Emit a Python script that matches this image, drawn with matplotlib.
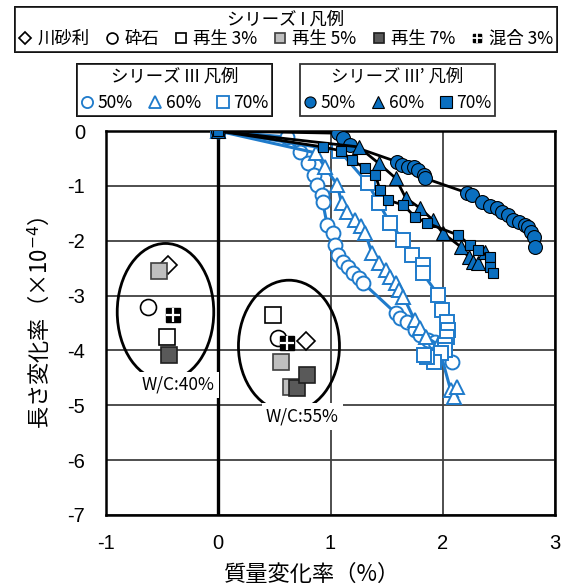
import matplotlib
matplotlib.use("Agg")
import matplotlib.pyplot as plt
from matplotlib.lines import Line2D
from matplotlib.patches import Ellipse
from matplotlib.legend_handler import HandlerTuple

plt.rcParams['font.family'] = ['Noto Sans CJK JP', 'DejaVu Sans']

# ---------------- data ----------------
# Series III (open markers, blue lines)
s3_50_x = [0, 0.61, 0.73, 0.80, 0.85, 0.88, 0.92, 0.93, 0.97, 1.02, 1.04, 1.07, 1.11, 1.16, 1.20, 1.25, 1.29,
           1.58, 1.62, 1.68, 1.75, 1.80, 1.87, 1.93, 2.08]
s3_50_y = [0, -0.11, -0.38, -0.58, -0.80, -0.98, -1.17, -1.29, -1.71, -1.86, -2.08, -2.26, -2.39, -2.48, -2.59, -2.68, -2.77,
           -3.32, -3.41, -3.48, -3.63, -3.72, -3.81, -3.85, -4.21]
s3_60_x = [0, 0.87, 0.95, 1.06, 1.10, 1.15, 1.22, 1.27, 1.31, 1.37, 1.43, 1.49, 1.53, 1.58, 1.61, 1.65, 1.75, 1.80,
           1.85, 1.96, 2.07, 2.10, 2.13]
s3_60_y = [0, -0.40, -0.66, -0.98, -1.32, -1.47, -1.62, -1.74, -1.86, -2.23, -2.41, -2.53, -2.66, -2.77, -2.90, -3.02, -3.45, -3.59,
           -3.75, -3.90, -4.72, -4.85, -4.66]
s3_70_x = [0, 1.08, 1.33, 1.43, 1.53, 1.65, 1.73, 1.82, 1.82, 1.96, 1.99, 2.04, 2.05, 2.04, 2.02, 2.02, 1.98, 1.92, 1.86, 1.83]
s3_70_y = [0, -0.36, -0.95, -1.31, -1.68, -1.99, -2.26, -2.44, -2.59, -2.99, -3.26, -3.48, -3.63, -3.75, -3.90, -3.99, -4.05, -4.21, -4.12, -4.08]

# Series III' (filled markers, black lines)
s3p_50_x = [0, 1.07, 1.11, 1.17, 1.59, 1.64, 1.69, 1.74, 1.78, 1.83, 1.84, 2.22, 2.26, 2.35, 2.42, 2.48, 2.53, 2.58,
            2.63, 2.68, 2.73, 2.76, 2.79, 2.81, 2.82]
s3p_50_y = [0, -0.04, -0.13, -0.26, -0.56, -0.62, -0.65, -0.65, -0.71, -0.80, -0.86, -1.13, -1.17, -1.29, -1.36, -1.41, -1.47, -1.53,
            -1.62, -1.66, -1.71, -1.75, -1.84, -1.93, -2.11]
s3p_60_x = [0, 1.25, 1.43, 1.58, 1.67, 1.80, 1.91, 2.00, 2.16, 2.23, 2.27, 2.31, 2.38]
s3p_60_y = [0, -0.29, -0.59, -0.86, -1.22, -1.41, -1.62, -1.86, -2.11, -2.30, -2.39, -2.41, -2.21]
s3p_70_x = [0, 0.93, 1.09, 1.19, 1.31, 1.40, 1.44, 1.51, 1.65, 1.75, 1.86, 2.14, 2.24, 2.31, 2.42, 2.42, 2.45]
s3p_70_y = [0, -0.29, -0.36, -0.53, -0.68, -0.80, -1.07, -1.26, -1.35, -1.56, -1.68, -1.90, -2.08, -2.17, -2.30, -2.48, -2.59]

# Series I (W/C 40% and 55%)
s1_labels = ['川砂利', '砕石', '再生 3%', '再生 5%', '再生 7%', '混合 3%']
s1_x40 = [-0.45, -0.63, -0.46, -0.53, -0.44, -0.40]
s1_y40 = [-2.44, -3.21, -3.75, -2.55, -4.08, -3.35]
s1_x55 = [[0.78], [0.53], [0.49], [0.56, 0.65], [0.70, 0.79], [0.61]]
s1_y55 = [[-3.83], [-3.77], [-3.35], [-4.21, -4.67], [-4.69, -4.45], [-3.87]]

# Annotations
wc_labels = ['W/C:40%', 'W/C:55%']
wc_label_xy = [(-0.36, -4.63), (0.75, -5.21)]
ell_center = [(-0.47, -3.3), (0.63, -3.92)]
ell_size = [(0.86, 2.5), (0.9, 2.4)]

x_ticks = [-1, 0, 1, 2, 3]
y_ticks = [0, -1, -2, -3, -4, -5, -6, -7]

# ---------------- figure ----------------
W, H = 569, 587
fig = plt.figure(figsize=(W/100, H/100), dpi=100)
ax = fig.add_axes([106/W, 1-515/H, (555-106)/W, (515-131)/H])
ax.set_xlim(-1, 3)
ax.set_ylim(-7, 0)
ax.set_xticks(x_ticks)
ax.set_yticks(y_ticks)
ax.set_xticklabels([str(v) for v in x_ticks], family=['Liberation Sans'])
ax.set_yticklabels([str(v) for v in y_ticks], family=['Liberation Sans'])
ax.tick_params(length=0, labelsize=14.5)
ax.tick_params(axis='x', pad=14)
ax.tick_params(axis='y', pad=15)
ax.grid(True, color='#404040', lw=1.3, zorder=0)
ax.set_axisbelow(True)
for s in ax.spines.values():
    s.set_linewidth(1.8)
    s.set_color('black')
ax.axvline(0, color='black', lw=2.4, zorder=1)

ax.set_xlabel('質量変化率（%）', fontsize=16)
ax.set_ylabel('長さ変化率（×10$^{-4}$）', fontsize=16)
ax.xaxis.set_label_coords((312 - 106) / (555 - 106), -(563 - 515) / (515 - 131))
ax.yaxis.set_label_coords(-(106 - 52) / (555 - 106), 0.5)

blue_o = '#1F7BCB'
blue_f = '#0A6FC0'

# Series III
ax.plot(s3_50_x, s3_50_y, color=blue_o, lw=2.2, marker='o', ms=10, mfc='white', mec=blue_o, mew=1.4, zorder=3)
ax.plot(s3_60_x, s3_60_y, color=blue_o, lw=2.2, marker='^', ms=10, mfc='white', mec=blue_o, mew=1.4, zorder=3)
ax.plot(s3_70_x, s3_70_y, color=blue_o, lw=2.2, marker='s', ms=10, mfc='white', mec=blue_o, mew=1.4, zorder=3)

# Series III'
ax.plot(s3p_50_x, s3p_50_y, color='black', lw=2.0, marker='o', ms=10, mfc=blue_f, mec='black', mew=0.8, zorder=4)
ax.plot(s3p_60_x, s3p_60_y, color='black', lw=2.0, marker='^', ms=9.5, mfc=blue_f, mec='black', mew=0.8, zorder=4)
ax.plot(s3p_70_x, s3p_70_y, color='black', lw=2.0, marker='s', ms=7, mfc=blue_f, mec='black', mew=0.8, zorder=4)

# Series I markers
s1_style = [
    dict(marker='D', ms=9.5, mfc='white', mec='black', mew=1.2),
    dict(marker='o', ms=11.5, mfc='white', mec='black', mew=1.2),
    dict(marker='s', ms=11.5, mfc='white', mec='black', mew=1.2),
    dict(marker='s', ms=11.5, mfc='#BFBFBF', mec='#404040', mew=1.2),
    dict(marker='s', ms=11.5, mfc='#595959', mec='#202020', mew=1.2),
    dict(marker='s', ms=9.5, mfc='black', mec='black', mew=1.0),
]
plus_style = dict(marker='+', ms=10, mec='white', mew=1.6)

for i, st in enumerate(s1_style):
    ax.plot([s1_x40[i]], [s1_y40[i]], ls='none', zorder=5, **st)
    ax.plot(s1_x55[i], s1_y55[i], ls='none', zorder=5, **st)
    if i == 5:
        ax.plot([s1_x40[i]], [s1_y40[i]], ls='none', zorder=6, **plus_style)
        ax.plot(s1_x55[i], s1_y55[i], ls='none', zorder=6, **plus_style)

for (cx, cy), (w, h) in zip(ell_center, ell_size):
    ax.add_patch(Ellipse((cx, cy), w, h, fill=False, ec='black', lw=2.0, zorder=2))

for lab, (tx, ty) in zip(wc_labels, wc_label_xy):
    ax.text(tx, ty, lab, ha='center', va='center', fontsize=12.5, zorder=7,
            bbox=dict(boxstyle='square,pad=0.25', fc='white', ec='none'))

# ---------------- legends ----------------
h1 = []
for i, st in enumerate(s1_style):
    base = Line2D([], [], ls='none', **dict(st, ms=st['ms'] * 0.68))
    if i == 5:
        h1.append((base, Line2D([], [], ls='none', **dict(plus_style, ms=7, mew=1.3))))
    else:
        h1.append(base)
leg1 = fig.legend(h1, s1_labels, ncol=6, title='シリーズ I 凡例', loc='upper left',
                  bbox_to_anchor=(15/W, 1 - 60/H, 542/W, 53/H), mode='expand',
                  frameon=True, fancybox=False, edgecolor='black',
                  fontsize=12.5, title_fontsize=12.5, handlelength=0.8, handletextpad=0.3,
                  columnspacing=0.5, borderpad=0.2, borderaxespad=0, labelspacing=0.1,
                  handler_map={tuple: HandlerTuple(ndivide=1, pad=0)})
leg1.get_frame().set_linewidth(1.3)
fig.add_artist(leg1)

h3 = [Line2D([], [], ls='none', marker=m, ms=8, mfc='white', mec=blue_o, mew=1.3) for m in ['o', '^', 's']]
leg3 = fig.legend(h3, ['50%', '60%', '70%'], ncol=3, title='シリーズ III 凡例', loc='upper left',
                  bbox_to_anchor=(77/W, 1 - 112/H, 195/W, 48/H), mode='expand',
                  frameon=True, fancybox=False, edgecolor='black',
                  fontsize=12.5, title_fontsize=12.5, handlelength=0.8, handletextpad=0.2,
                  columnspacing=0.5, borderpad=0.2, borderaxespad=0)
leg3.get_frame().set_linewidth(1.3)
fig.add_artist(leg3)

h3p = [Line2D([], [], ls='none', marker=m, ms=8, mfc=blue_f, mec='black', mew=0.8) for m in ['o', '^', 's']]
leg3p = fig.legend(h3p, ['50%', '60%', '70%'], ncol=3, title='シリーズ III’ 凡例', loc='upper left',
                   bbox_to_anchor=(300/W, 1 - 112/H, 195/W, 48/H), mode='expand',
                   frameon=True, fancybox=False, edgecolor='black',
                   fontsize=12.5, title_fontsize=12.5, handlelength=0.8, handletextpad=0.2,
                   columnspacing=0.5, borderpad=0.2, borderaxespad=0)
leg3p.get_frame().set_linewidth(1.3)

fig.savefig('out.png', dpi=100)
